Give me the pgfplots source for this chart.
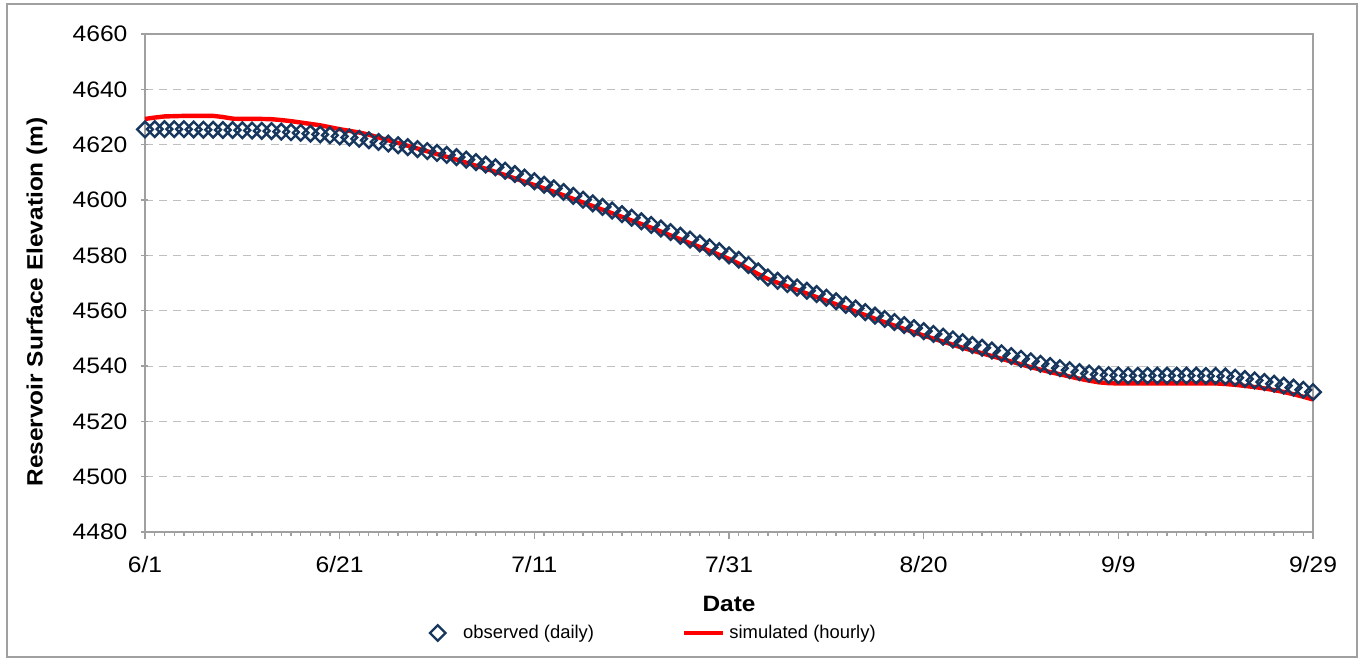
\documentclass[border=0pt]{standalone}
\usepackage{pgfplots}
\usepackage{pgfplotstable}
\pgfplotsset{compat=1.18}
\usepackage{fontspec}
\setmainfont{Liberation Sans}
\newfontfamily\widesans[FakeStretch=1.1]{Liberation Sans}

\definecolor{obsblue}{HTML}{17375E}
\definecolor{simred}{HTML}{FF0000}
\definecolor{axgray}{HTML}{A0A0A0}
\definecolor{gridgray}{HTML}{C0C0C0}

\pgfplotsset{
  shortline legend/.style={legend image code/.code={\draw[##1] (0pt,0pt) -- (19.5pt,0pt);}},
  mark legend/.style={legend image code/.code={\draw[##1] plot coordinates {(0pt,0pt)}; \path (10.5pt,0pt);}},
}

% day (0 = 6/1), observed daily elevation, simulated elevation
\pgfplotstableread{
day obs sim
0 4625.5 4629.3
1 4625.6 4629.8
2 4625.6 4630.2
3 4625.6 4630.3
4 4625.6 4630.4
5 4625.5 4630.4
6 4625.4 4630.4
7 4625.4 4630.4
8 4625.3 4630.0
9 4625.3 4629.4
10 4625.2 4629.3
11 4625.1 4629.3
12 4625.0 4629.3
13 4624.9 4629.2
14 4624.7 4628.9
15 4624.5 4628.5
16 4624.3 4628.0
17 4624.0 4627.5
18 4623.7 4627.0
19 4623.4 4626.3
20 4623.0 4625.6
21 4622.6 4625.0
22 4622.1 4624.4
23 4621.6 4623.6
24 4621.0 4622.6
25 4620.4 4621.6
26 4619.8 4620.6
27 4619.1 4619.6
28 4618.4 4618.6
29 4617.7 4617.6
30 4617.0 4616.6
31 4616.3 4615.6
32 4615.5 4614.6
33 4614.6 4613.5
34 4613.7 4612.4
35 4612.8 4611.3
36 4611.8 4610.2
37 4610.6 4609.0
38 4609.4 4607.8
39 4608.1 4606.6
40 4606.8 4605.4
41 4605.5 4604.2
42 4604.2 4603.0
43 4602.9 4601.7
44 4601.5 4600.4
45 4600.1 4599.1
46 4598.8 4597.8
47 4597.5 4596.5
48 4596.2 4595.2
49 4594.9 4593.9
50 4593.6 4592.6
51 4592.3 4591.3
52 4591.0 4590.0
53 4589.7 4588.6
54 4588.4 4587.2
55 4587.1 4585.8
56 4585.7 4584.4
57 4584.3 4583.0
58 4582.9 4581.6
59 4581.5 4580.2
60 4580.0 4578.7
61 4578.4 4577.0
62 4576.5 4575.2
63 4574.2 4573.2
64 4572.0 4571.4
65 4570.8 4570.1
66 4569.6 4568.8
67 4568.4 4567.5
68 4567.2 4566.2
69 4566.0 4564.9
70 4564.7 4563.6
71 4563.4 4562.3
72 4562.1 4561.0
73 4560.8 4559.7
74 4559.5 4558.4
75 4558.2 4557.1
76 4557.0 4555.8
77 4555.9 4554.6
78 4554.8 4553.4
79 4553.7 4552.2
80 4552.6 4551.0
81 4551.6 4549.9
82 4550.6 4548.8
83 4549.6 4547.7
84 4548.6 4546.6
85 4547.6 4545.6
86 4546.6 4544.6
87 4545.6 4543.6
88 4544.6 4542.6
89 4543.6 4541.6
90 4542.6 4540.6
91 4541.7 4539.6
92 4540.8 4538.7
93 4540.0 4537.8
94 4539.2 4537.0
95 4538.5 4536.2
96 4537.8 4535.4
97 4537.3 4534.7
98 4536.9 4534.1
99 4536.7 4533.8
100 4536.6 4533.7
101 4536.5 4533.7
102 4536.5 4533.7
103 4536.5 4533.7
104 4536.5 4533.7
105 4536.5 4533.7
106 4536.5 4533.7
107 4536.5 4533.7
108 4536.5 4533.7
109 4536.4 4533.7
110 4536.4 4533.7
111 4536.2 4533.5
112 4535.8 4533.2
113 4535.3 4532.8
114 4534.8 4532.4
115 4534.2 4531.9
116 4533.6 4531.3
117 4532.9 4530.6
118 4532.2 4529.8
119 4531.4 4528.9
120 4530.6 4527.9
}\elevdata

\begin{document}
\begin{tikzpicture}
\useasboundingbox (-72.5pt,-66.5pt) rectangle (609pt,266pt);
% chart area frame
\draw[axgray, line width=1pt] (-69pt,-62.5pt) rectangle (606pt,264pt);
\begin{axis}[
  at={(0pt,0pt)}, anchor=south west,
  scale only axis,
  width=584pt, height=249pt,
  xmin=0, xmax=120,
  ymin=4480, ymax=4660,
  xtick={0,20,...,120},
  xticklabels={6/1,6/21,7/11,7/31,8/20,9/9,9/29},
  minor x tick num=19,
  ytick={4480,4500,...,4660},
  /pgf/number format/assume math mode=true,
  /pgf/number format/1000 sep={},
  axis line style={axgray, line width=0.75pt},
  tick style={axgray, line width=0.6pt},
  xtick align=outside,
  ytick align=center,
  major tick length=3.5pt,
  minor tick length=2pt,
  xtick pos=bottom, ytick pos=left,
  ymajorgrids,
  major grid style={gridgray, line width=0.5pt, dash pattern=on 4pt off 3pt},
  tick label style={font=\widesans\fontsize{11.2}{13}\selectfont, black},
  xticklabel style={yshift=-5pt},
  yticklabel style={xshift=-3.5pt},
  xlabel={Date},
  ylabel={Reservoir Surface Elevation (m)},
  label style={font=\widesans\fontsize{11.1}{13}\selectfont\bfseries},
  x label style={at={(axis description cs:0.5,-0.1446)}, anchor=center},
  y label style={at={(axis description cs:-0.0925,0.462)}, anchor=center},
  legend columns=2,
  legend style={draw=none, fill=none,
    at={(0.4365,-0.2028)}, anchor=center,
    font=\fontsize{9.2}{11}\selectfont,
    /tikz/every even column/.append style={column sep=42pt}},
  legend cell align=left,
]
\addplot[simred, line width=2.2pt, no marks, forget plot] table[x=day, y=sim] {\elevdata};
\addplot[obsblue, only marks, mark=square, mark size=2.75pt,
  mark options={rotate=45, line width=1.2pt, fill=none}, forget plot] table[x=day, y=obs] {\elevdata};
\addlegendimage{obsblue, only marks, mark=square, mark size=2.75pt,
  mark options={rotate=45, line width=1.2pt, fill=none}, mark legend}
\addlegendentry{observed (daily)}
\addlegendimage{simred, line width=2.2pt, shortline legend}
\addlegendentry{simulated (hourly)}
\end{axis}
\end{tikzpicture}
\end{document}
